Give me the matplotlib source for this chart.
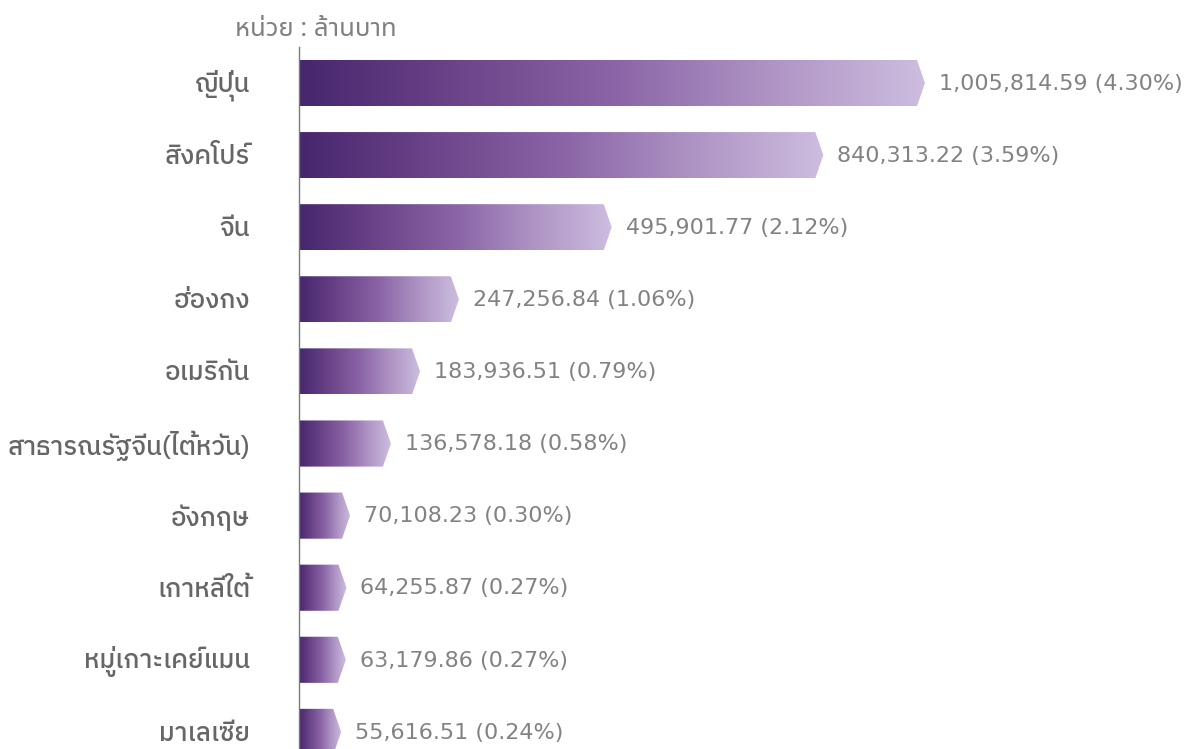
import matplotlib
matplotlib.use("Agg")
import matplotlib.pyplot as plt
from matplotlib import font_manager
from matplotlib.patches import Polygon
from matplotlib.colors import LinearSegmentedColormap
import numpy as np

countries = ["ญี่ปุ่น", "สิงคโปร์", "จีน", "ฮ่องกง", "อเมริกัน",
             "สาธารณรัฐจีน(ไต้หวัน)", "อังกฤษ", "เกาหลีใต้", "หมู่เกาะเคย์แมน", "มาเลเซีย"]
values = [1005814.59, 840313.22, 495901.77, 247256.84, 183936.51,
          136578.18, 70108.23, 64255.87, 63179.86, 55616.51]
shares = [4.30, 3.59, 2.12, 1.06, 0.79, 0.58, 0.30, 0.27, 0.27, 0.24]
unit_label = "หน่วย : ล้านบาท"

available = {f.name for f in font_manager.fontManager.ttflist}
thai = [n for n in ["Noto Sans Thai", "IBM Plex Sans Thai", "Anuphan"] if n in available][:1]
cat_thai = [n for n in ["IBM Plex Sans Thai", "Noto Sans Thai", "Anuphan"] if n in available][:1]
label_fams = ["Noto Sans"] + thai + ["DejaVu Sans"]
cat_fams = cat_thai + ["Noto Sans", "DejaVu Sans"]
value_fams = ["DejaVu Sans"] + thai
plt.rcParams["font.family"] = label_fams

W, H = 1189, 749
fig = plt.figure(figsize=(W / 100, H / 100), dpi=100)
ax_left, ax_top = 299, 47
ax = fig.add_axes([ax_left / W, 0, (W - ax_left) / W, (H - ax_top) / H])

ylim_top = -0.5
ylim_bot = (749 - 83) / 72.1
axes_w_px = W - ax_left
xmax = values[0] * axes_w_px / 618
px = xmax / axes_w_px
tip = 8 * px
bar_h = 0.64

cmap = LinearSegmentedColormap.from_list(
    "pg", ["#47266E", "#6B4489", "#8A64A6", "#AE93C4", "#CDBDDF"])
grad = np.linspace(0, 1, 256).reshape(1, -1)

for i, v in enumerate(values):
    y0, y1 = i - bar_h / 2, i + bar_h / 2
    poly = Polygon([(0, y0), (v, y0), (v + tip, i), (v, y1), (0, y1)],
                   closed=True, facecolor="none", edgecolor="none")
    ax.add_patch(poly)
    im = ax.imshow(grad, cmap=cmap, aspect="auto",
                   extent=(0, v + tip, y1, y0), interpolation="bicubic", zorder=2)
    im.set_clip_path(poly)
    ax.text(v + tip + 14 * px, i + 0.01, f"{v:,.2f} ({shares[i]:.2f}%)",
            va="center", ha="left", fontsize=16, color="#828282", family=value_fams)
    fig.text(250 / W, 1 - (85 + 72.1 * i) / H, countries[i], ha="right", va="center",
             fontsize=18.5, color="#666666", fontweight="medium", family=cat_fams)

ax.set_ylim(ylim_bot, ylim_top)
ax.set_xlim(0, xmax)
for s in ["top", "right", "bottom"]:
    ax.spines[s].set_visible(False)
ax.spines["left"].set_color("#7A7A7A")
ax.spines["left"].set_linewidth(1.0)
ax.set_xticks([])
ax.set_yticks([])
ax.patch.set_alpha(0)

fig.text(397 / W, 1 - 30 / H, unit_label, ha="right", va="center",
         fontsize=18.5, color="#808080", fontweight="light")

fig.savefig("out.png", dpi=100)
